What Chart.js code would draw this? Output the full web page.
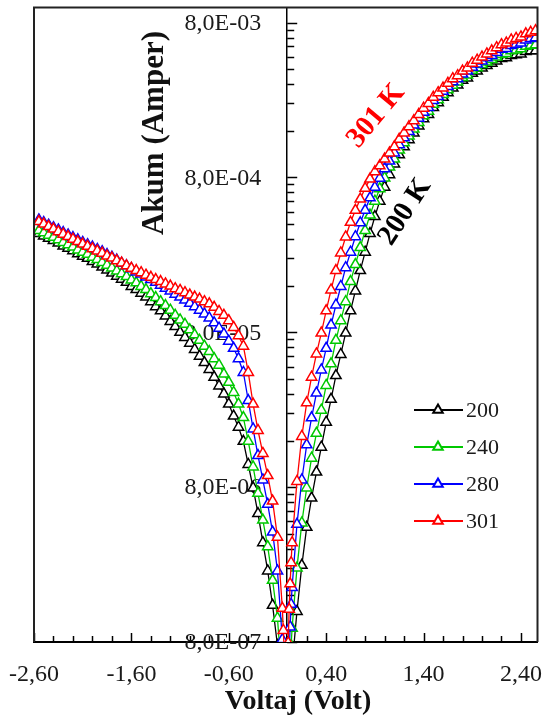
<!DOCTYPE html>
<html>
<head>
<meta charset="utf-8">
<title>Akum - Voltaj</title>
<script src="https://cdn.jsdelivr.net/npm/chart.js@4.4.1/dist/chart.umd.min.js"></script>
<style>
  html, body { margin: 0; padding: 0; background: #fff; }
  .wrap { position: relative; width: 545px; height: 722px; }
</style>
</head>
<body>
<div class="wrap"><canvas id="ivChart"></canvas></div>
<script>
// Voltaj (V) – aynı tarama tüm sıcaklıklar için
const voltage = [
  -2.55, -2.50, -2.45, -2.40, -2.35, -2.30, -2.25, -2.20, -2.15, -2.10,
  -2.05, -2.00, -1.95, -1.90, -1.85, -1.80, -1.75, -1.70, -1.65, -1.60,
  -1.55, -1.50, -1.45, -1.40, -1.35, -1.30, -1.25, -1.20, -1.15, -1.10,
  -1.05, -1.00, -0.95, -0.90, -0.85, -0.80, -0.75, -0.70, -0.65, -0.60,
  -0.55, -0.50, -0.45, -0.40, -0.35, -0.30, -0.25, -0.20, -0.15, -0.10,
  -0.05, -0.04, -0.03, -0.02, -0.01,
  0.01, 0.02, 0.03, 0.04, 0.05,
  0.10, 0.15, 0.20, 0.25, 0.30, 0.35, 0.40, 0.45, 0.50, 0.55,
  0.60, 0.65, 0.70, 0.75, 0.80, 0.85, 0.90, 0.95, 1.00, 1.05,
  1.10, 1.15, 1.20, 1.25, 1.30, 1.35, 1.40, 1.45, 1.50, 1.55,
  1.60, 1.65, 1.70, 1.75, 1.80, 1.85, 1.90, 1.95, 2.00, 2.05,
  2.10, 2.15, 2.20, 2.25, 2.30, 2.35, 2.40, 2.45, 2.50, 2.55,
];

// Akım (A), mutlak değer
const current200 = [
  3.47e-4, 3.35e-4, 3.24e-4, 3.13e-4, 3.02e-4, 2.88e-4, 2.79e-4, 2.69e-4, 2.57e-4, 2.48e-4,
  2.40e-4, 2.29e-4, 2.21e-4, 2.11e-4, 2.02e-4, 1.93e-4, 1.84e-4, 1.76e-4, 1.68e-4, 1.58e-4,
  1.51e-4, 1.43e-4, 1.35e-4, 1.26e-4, 1.17e-4, 1.10e-4, 1.02e-4, 9.4e-5, 8.7e-5, 8.0e-5,
  7.4e-5, 6.8e-5, 6.2e-5, 5.6e-5, 5.1e-5, 4.6e-5, 4.1e-5, 3.6e-5, 3.2e-5, 2.75e-5,
  2.3e-5, 1.95e-5, 1.58e-5, 1.12e-5, 7.9e-6, 5.4e-6, 3.5e-6, 2.3e-6, 1.38e-6, 7.6e-7,
  2.8e-7, 2.4e-7, 1.66e-7, 1.05e-7, 5.0e-8,
  1.0e-7, 2.0e-7, 3.2e-7, 4.5e-7, 5.6e-7,
  1.26e-6, 2.5e-6, 4.4e-6, 6.8e-6, 1.0e-5, 1.45e-5, 2.1e-5, 2.95e-5, 4.2e-5, 5.75e-5,
  7.9e-5, 1.1e-4, 1.48e-4, 2.0e-4, 2.63e-4, 3.47e-4, 4.47e-4, 5.62e-4, 6.92e-4, 8.32e-4,
  9.77e-4, 1.12e-3, 1.26e-3, 1.40e-3, 1.55e-3, 1.72e-3, 1.91e-3, 2.04e-3, 2.26e-3, 2.43e-3,
  2.63e-3, 2.82e-3, 3.02e-3, 3.16e-3, 3.39e-3, 3.51e-3, 3.76e-3, 3.89e-3, 4.07e-3, 4.22e-3,
  4.37e-3, 4.52e-3, 4.68e-3, 4.73e-3, 4.90e-3, 4.95e-3, 5.01e-3, 5.19e-3, 5.25e-3, 5.25e-3,
];
const current240 = [
  3.63e-4, 3.51e-4, 3.39e-4, 3.28e-4, 3.17e-4, 3.04e-4, 2.94e-4, 2.84e-4, 2.72e-4, 2.63e-4,
  2.55e-4, 2.44e-4, 2.36e-4, 2.26e-4, 2.17e-4, 2.08e-4, 1.99e-4, 1.91e-4, 1.83e-4, 1.74e-4,
  1.67e-4, 1.58e-4, 1.51e-4, 1.42e-4, 1.34e-4, 1.26e-4, 1.19e-4, 1.11e-4, 1.03e-4, 9.6e-5,
  9.0e-5, 8.3e-5, 7.7e-5, 7.1e-5, 6.5e-5, 6.0e-5, 5.4e-5, 4.9e-5, 4.3e-5, 3.8e-5,
  3.27e-5, 2.75e-5, 2.25e-5, 1.58e-5, 1.08e-5, 7.3e-6, 4.9e-6, 3.3e-6, 2.0e-6, 1.14e-6,
  4.2e-7, 3.4e-7, 2.3e-7, 1.5e-7, 7.1e-8,
  1.9e-7, 3.5e-7, 5.4e-7, 7.6e-7, 9.8e-7,
  2.4e-6, 4.7e-6, 7.9e-6, 1.23e-5, 1.78e-5, 2.51e-5, 3.63e-5, 5.0e-5, 7.1e-5, 9.5e-5,
  1.26e-4, 1.70e-4, 2.19e-4, 2.82e-4, 3.63e-4, 4.57e-4, 5.62e-4, 6.76e-4, 7.94e-4, 9.33e-4,
  1.05e-3, 1.20e-3, 1.34e-3, 1.48e-3, 1.64e-3, 1.81e-3, 2.00e-3, 2.14e-3, 2.37e-3, 2.54e-3,
  2.74e-3, 2.94e-3, 3.15e-3, 3.30e-3, 3.53e-3, 3.66e-3, 3.93e-3, 4.08e-3, 4.28e-3, 4.44e-3,
  4.61e-3, 4.79e-3, 4.98e-3, 5.05e-3, 5.25e-3, 5.32e-3, 5.41e-3, 5.62e-3, 5.70e-3, 5.74e-3,
];
const current280 = [
  4.25e-4, 4.09e-4, 3.93e-4, 3.79e-4, 3.66e-4, 3.52e-4, 3.40e-4, 3.27e-4, 3.16e-4, 3.04e-4,
  2.94e-4, 2.84e-4, 2.74e-4, 2.65e-4, 2.54e-4, 2.44e-4, 2.34e-4, 2.23e-4, 2.15e-4, 2.06e-4,
  1.96e-4, 1.90e-4, 1.82e-4, 1.75e-4, 1.68e-4, 1.61e-4, 1.54e-4, 1.48e-4, 1.41e-4, 1.35e-4,
  1.29e-4, 1.23e-4, 1.17e-4, 1.11e-4, 1.05e-4, 9.9e-5, 9.2e-5, 8.5e-5, 7.8e-5, 7.0e-5,
  6.3e-5, 5.4e-5, 4.4e-5, 2.9e-5, 1.9e-5, 1.28e-5, 8.9e-6, 6.2e-6, 4.1e-6, 2.3e-6,
  8.3e-7, 6.3e-7, 4.5e-7, 2.8e-7, 1.35e-7,
  3.8e-7, 6.8e-7, 1.0e-6, 1.4e-6, 1.8e-6,
  4.6e-6, 8.9e-6, 1.5e-5, 2.24e-5, 3.24e-5, 4.57e-5, 6.3e-5, 8.9e-5, 1.2e-4, 1.58e-4,
  2.09e-4, 2.63e-4, 3.31e-4, 4.07e-4, 4.9e-4, 5.9e-4, 6.9e-4, 7.9e-4, 9.1e-4, 1.02e-3,
  1.15e-3, 1.30e-3, 1.44e-3, 1.58e-3, 1.74e-3, 1.93e-3, 2.11e-3, 2.26e-3, 2.51e-3, 2.66e-3,
  2.88e-3, 3.09e-3, 3.31e-3, 3.47e-3, 3.72e-3, 3.89e-3, 4.12e-3, 4.32e-3, 4.52e-3, 4.73e-3,
  4.90e-3, 5.13e-3, 5.37e-3, 5.43e-3, 5.69e-3, 5.80e-3, 5.89e-3, 6.17e-3, 6.31e-3, 6.38e-3,
];
const current301 = [
  4.15e-4, 4.00e-4, 3.85e-4, 3.71e-4, 3.57e-4, 3.44e-4, 3.32e-4, 3.19e-4, 3.08e-4, 2.97e-4,
  2.87e-4, 2.77e-4, 2.68e-4, 2.59e-4, 2.49e-4, 2.41e-4, 2.32e-4, 2.24e-4, 2.15e-4, 2.07e-4,
  2.00e-4, 1.94e-4, 1.87e-4, 1.81e-4, 1.75e-4, 1.70e-4, 1.64e-4, 1.59e-4, 1.53e-4, 1.49e-4,
  1.44e-4, 1.39e-4, 1.35e-4, 1.31e-4, 1.26e-4, 1.22e-4, 1.16e-4, 1.09e-4, 1.03e-4, 9.5e-5,
  8.6e-5, 7.6e-5, 6.5e-5, 4.4e-5, 2.75e-5, 1.86e-5, 1.32e-5, 9.5e-6, 6.5e-6, 3.8e-6,
  1.32e-6, 9.5e-7, 6.8e-7, 4.3e-7, 2.1e-7,
  7.9e-7, 1.3e-6, 1.9e-6, 2.6e-6, 3.5e-6,
  8.7e-6, 1.7e-5, 2.8e-5, 4.1e-5, 5.8e-5, 7.9e-5, 1.1e-4, 1.5e-4, 2.0e-4, 2.6e-4,
  3.3e-4, 4.1e-4, 4.9e-4, 5.8e-4, 6.8e-4, 7.8e-4, 8.7e-4, 9.5e-4, 1.05e-3, 1.15e-3,
  1.26e-3, 1.41e-3, 1.55e-3, 1.70e-3, 1.86e-3, 2.04e-3, 2.24e-3, 2.40e-3, 2.63e-3, 2.82e-3,
  3.02e-3, 3.24e-3, 3.47e-3, 3.63e-3, 3.89e-3, 4.07e-3, 4.37e-3, 4.57e-3, 4.79e-3, 5.01e-3,
  5.25e-3, 5.50e-3, 5.75e-3, 5.89e-3, 6.17e-3, 6.31e-3, 6.46e-3, 6.76e-3, 6.92e-3, 7.08e-3,
];

const seriesLabels = ["200", "240", "280", "301"];
const seriesColors = ["#000000", "#00c800", "#0000ff", "#ff0000"];

// eksen işaretleri
const xTickValues = [
  -2.6, -2.4, -2.2, -2.0, -1.8, -1.6, -1.4, -1.2, -1.0, -0.8, -0.6, -0.4, -0.2,
  0.0, 0.2, 0.4, 0.6, 0.8, 1.0, 1.2, 1.4, 1.6, 1.8, 2.0, 2.2, 2.4,
];
const xLabelValues = [-2.6, -1.6, -0.6, 0.4, 1.4, 2.4];
const yMajorValues = [8e-7, 8e-6, 8e-5, 8e-4, 8e-3];
const yMinorSteps = [2, 3, 4, 5, 6, 7, 8, 9];

const SERIF = "'Liberation Serif', 'Times New Roman', serif";
Chart.defaults.font.family = SERIF;

const isXLabel = (v) => xLabelValues.some((l) => Math.abs(l - v) < 1e-6);
const formatX = (v) => v.toFixed(2).replace(".", ",");
const formatY = (v) => {
  const exp = Math.floor(Math.log10(v) + 1e-9);
  const mant = v / Math.pow(10, exp);
  return `${mant.toFixed(1).replace(".", ",")}E-${String(-exp).padStart(2, "0")}`;
};
const yTickValues = yMajorValues
  .flatMap((m) => [m, ...yMinorSteps.map((k) => m * k)])
  .filter((v) => v <= 1e-2);

// eksen çizgileri, iç işaretler, başlıklar, notlar ve gösterge
const decorPlugin = {
  id: "decor",
  beforeDatasetsDraw(chart) {
    const { ctx, chartArea: area, scales } = chart;
    const x0 = scales.x.getPixelForValue(0);
    ctx.save();
    ctx.strokeStyle = "#000";
    ctx.lineWidth = 1.5;

    scales.y.ticks.forEach((t) => {
      const py = Math.round(scales.y.getPixelForValue(t.value)) + 0.5;
      const len = yMajorValues.includes(t.value) ? 10 : 7;
      ctx.beginPath();
      ctx.moveTo(x0, py);
      ctx.lineTo(x0 + len, py);
      ctx.stroke();
    });

    scales.x.ticks.forEach((t) => {
      const px = Math.round(scales.x.getPixelForValue(t.value)) + 0.5;
      const len = isXLabel(t.value) ? 9 : 6;
      ctx.beginPath();
      ctx.moveTo(px, area.bottom);
      ctx.lineTo(px, area.bottom - len);
      ctx.stroke();
    });

    ctx.fillStyle = "#1a1a1a";
    ctx.font = `24px ${SERIF}`;
    ctx.textAlign = "right";
    ctx.textBaseline = "middle";
    yMajorValues.forEach((v) => {
      ctx.fillText(formatY(v), x0 - 26, scales.y.getPixelForValue(v) + 1);
    });
    ctx.restore();
  },
  afterDraw(chart) {
    const { ctx, chartArea: area } = chart;
    ctx.save();

    // çerçeve
    ctx.strokeStyle = "#222";
    ctx.lineWidth = 2;
    ctx.beginPath();
    ctx.moveTo(area.left, area.bottom);
    ctx.lineTo(area.left, area.top);
    ctx.lineTo(area.right, area.top);
    ctx.lineTo(area.right, area.bottom);
    ctx.stroke();

    // eksen başlıkları
    ctx.fillStyle = "#111";
    ctx.textAlign = "center";
    ctx.textBaseline = "middle";
    ctx.font = `bold 28px ${SERIF}`;
    ctx.fillText("Voltaj (Volt)", 298, 702);

    ctx.save();
    ctx.translate(155, 133);
    ctx.rotate(-Math.PI / 2);
    ctx.font = `bold 31px ${SERIF}`;
    ctx.fillText("Akum (Amper)", 0, 0);
    ctx.restore();

    // sıcaklık notları
    const note = (text, color, x, y, deg) => {
      ctx.save();
      ctx.translate(x, y);
      ctx.rotate((deg * Math.PI) / 180);
      ctx.fillStyle = color;
      ctx.font = `bold 29px ${SERIF}`;
      ctx.fillText(text, 0, 0);
      ctx.restore();
    };
    note("301 K", "#ff0000", 376, 116, -50);
    note("200 K", "#000000", 405, 212, -57);

    // gösterge
    const rows = [410, 447, 484, 521];
    seriesLabels.forEach((label, i) => {
      const y = rows[i];
      ctx.strokeStyle = seriesColors[i];
      ctx.lineWidth = 2;
      ctx.beginPath();
      ctx.moveTo(414, y);
      ctx.lineTo(463, y);
      ctx.stroke();
      ctx.fillStyle = "#fff";
      Chart.helpers.drawPoint(ctx, { pointStyle: "triangle", radius: 5.5, rotation: 0, borderWidth: 1.5 }, 438, y);
      ctx.fillStyle = "#1a1a1a";
      ctx.font = `22px ${SERIF}`;
      ctx.textAlign = "left";
      ctx.fillText(label, 466, y + 1);
    });
    ctx.restore();
  },
};

const allCurrents = [current200, current240, current280, current301];

new Chart(document.getElementById("ivChart"), {
  type: "line",
  data: {
    datasets: seriesLabels.map((label, i) => ({
      label,
      data: voltage.map((v, j) => ({ x: v, y: allCurrents[i][j] })),
      borderColor: seriesColors[i],
      backgroundColor: seriesColors[i],
      borderWidth: 1.3,
      pointStyle: "triangle",
      pointRadius: 6,
      pointBorderWidth: 1.5,
      pointBorderColor: seriesColors[i],
      pointBackgroundColor: "#ffffff",
      tension: 0,
      order: 4 - i,
    })),
  },
  options: {
    responsive: true,
    maintainAspectRatio: false,
    animation: false,
    devicePixelRatio: 1,
    events: [],
    layout: { padding: { left: 34, right: 6, top: 4, bottom: 35 } },
    scales: {
      x: {
        type: "linear",
        min: -2.6,
        max: 2.57,
        afterBuildTicks: (scale) => {
          scale.ticks = xTickValues.map((value) => ({ value }));
        },
        grid: { display: false, drawTicks: true, tickLength: 21 },
        border: { display: true, color: "#000", width: 2 },
        ticks: {
          autoSkip: false,
          maxRotation: 0,
          padding: 0,
          color: "#1a1a1a",
          font: { size: 24, family: SERIF, lineHeight: 1 },
          callback: (v) => (isXLabel(v) ? formatX(v) : ""),
        },
      },
      y: {
        type: "logarithmic",
        min: 8e-7,
        max: 1e-2,
        position: { x: 0 },
        afterBuildTicks: (scale) => {
          scale.ticks = yTickValues.map((value) => ({ value }));
        },
        grid: { display: false, drawTicks: false },
        border: { display: true, color: "#000", width: 1.5 },
        ticks: { display: false },
      },
    },
    plugins: {
      legend: { display: false },
      tooltip: { enabled: false },
    },
  },
  plugins: [decorPlugin],
});
</script>
</body>
</html>
